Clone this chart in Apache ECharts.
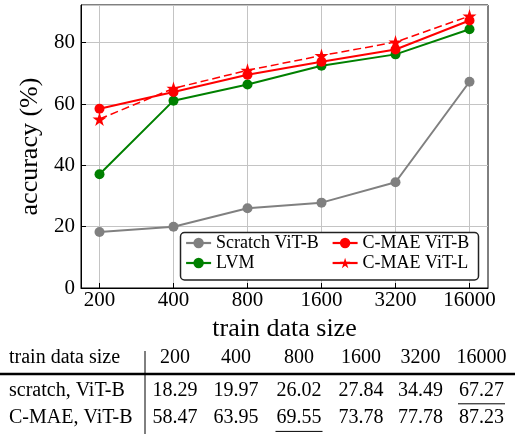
<!DOCTYPE html>
<html><head><meta charset="utf-8">
<script src="https://cdn.jsdelivr.net/npm/echarts@6/dist/echarts.min.js"></script>
<style>html,body{margin:0;padding:0;background:#fff}#c{width:515px;height:434px}</style>
</head><body><div id="c"></div>
<script>
// ---- data ----
const categories = ['200', '400', '800', '1600', '3200', '16000'];
const scratchVitB = [18.29, 19.97, 26.02, 27.84, 34.49, 67.27];
const lvm = [37.1, 61.1, 66.4, 72.5, 76.2, 84.4];
const cmaeVitB = [58.47, 63.95, 69.55, 73.78, 77.78, 87.23];
const cmaeVitL = [55.1, 65.1, 71.0, 75.8, 80.2, 88.7];
const seriesNames = ['Scratch ViT-B', 'LVM', 'C-MAE ViT-B', 'C-MAE ViT-L'];
const tableHeaderLabel = 'train data size';
const tableRowLabels = ['scratch, ViT-B', 'C-MAE, ViT-B'];
const tableRows = [scratchVitB, cmaeVitB];
const underlinedCol = [5, 2];

// ---- styling ----
const FONT = '"Liberation Serif", "Times New Roman", serif';
const STAR = 'path://M0,-10 L2.245,-3.09 L9.511,-3.09 L3.633,1.18 L5.878,8.09 L0,3.82 L-5.878,8.09 L-3.633,1.18 L-9.511,-3.09 L-2.245,-3.09 Z';
const idx = categories.map((c, i) => i);
const toPts = arr => arr.map((v, i) => [i, v]);

const chart = echarts.init(document.getElementById('c'), null, {renderer: 'canvas'});

// table graphics
const colX = [175, 236, 299, 361, 420.5, 481.5];
const rowY = [357.6, 390.3, 417.9];
const tableFont = '20px ' + FONT;
const g = [];
g.push({type: 'text', style: {text: tableHeaderLabel, x: 9, y: rowY[0], font: tableFont, fill: '#000', textAlign: 'left', textVerticalAlign: 'middle', verticalAlign: 'middle'}});
categories.forEach((c, i) => g.push({type: 'text', style: {text: c, x: colX[i], y: rowY[0], font: tableFont, fill: '#000', textAlign: 'center', textVerticalAlign: 'middle', verticalAlign: 'middle'}}));
tableRows.forEach((row, r) => {
  g.push({type: 'text', style: {text: tableRowLabels[r], x: 9, y: rowY[r + 1], font: tableFont, fill: '#000', textAlign: 'left', textVerticalAlign: 'middle', verticalAlign: 'middle'}});
  row.forEach((v, i) => {
    g.push({type: 'text', style: {text: v.toFixed(2), x: colX[i], y: rowY[r + 1], font: tableFont, fill: '#000', textAlign: 'center', textVerticalAlign: 'middle', verticalAlign: 'middle'}});
  });
  const u = underlinedCol[r];
  g.push({type: 'line', shape: {x1: colX[u] - 23.5, y1: rowY[r + 1] + 13.5, x2: colX[u] + 23.5, y2: rowY[r + 1] + 13.5}, style: {stroke: '#000', lineWidth: 1}});
});
g.push({type: 'line', shape: {x1: 0, y1: 374, x2: 515, y2: 374}, style: {stroke: '#000', lineWidth: 2.5}});
g.push({type: 'line', shape: {x1: 145, y1: 351, x2: 145, y2: 434}, style: {stroke: '#000', lineWidth: 1}});
// legend frame
g.push({type: 'rect', z: 3, shape: {x: 180.5, y: 232.5, width: 298, height: 47.5, r: 4}, style: {fill: '#fff', stroke: '#222', lineWidth: 1.5}});

const legendCommon = {
  orient: 'vertical', itemWidth: 25, itemHeight: 13, itemGap: 2, z: 5,
  textStyle: {fontFamily: FONT, fontSize: 18, color: '#000', lineHeight: 18, padding: 0},
  lineStyle: {width: 2.2, type: 'solid'},
  padding: 0
};

const option = {
  backgroundColor: '#fff',
  animation: false,
  textStyle: {fontFamily: FONT},
  grid: {left: 81, right: 27, top: 5, bottom: 146, show: true, borderColor: '#000', borderWidth: 1, containLabel: false},
  xAxis: {
    type: 'value', min: -0.25, max: 5.25,
    name: 'train data size', nameLocation: 'middle', nameGap: 27,
    nameTextStyle: {fontFamily: FONT, fontSize: 26, color: '#000'},
    axisLine: {show: true, onZero: false, lineStyle: {color: '#000', width: 1}},
    axisTick: {show: true, inside: true, length: 5, lineStyle: {color: '#000'}, customValues: idx},
    axisLabel: {customValues: idx, formatter: v => categories[Math.round(v)], fontFamily: FONT, fontSize: 21, color: '#000', margin: 2},
    splitLine: {show: true, lineStyle: {color: '#c4c4c4', width: 1}}
  },
  yAxis: {
    type: 'value', min: 0, max: 92.3, interval: 20,
    name: 'accuracy (%)', nameLocation: 'middle', nameGap: 27,
    nameTextStyle: {fontFamily: FONT, fontSize: 26, color: '#000'},
    axisLine: {show: true, onZero: false, lineStyle: {color: '#000', width: 1}},
    axisTick: {show: true, inside: true, length: 5, lineStyle: {color: '#000'}},
    axisLabel: {fontFamily: FONT, fontSize: 21, color: '#000', margin: 6, showMaxLabel: false, formatter: v => (v % 20 === 0 ? String(v) : '')},
    splitLine: {show: true, lineStyle: {color: '#c4c4c4', width: 1}}
  },
  legend: [
    Object.assign({}, legendCommon, {left: 185, top: 234, data: [seriesNames[0], seriesNames[1]]}),
    Object.assign({}, legendCommon, {left: 331.5, top: 234, data: [seriesNames[2], seriesNames[3]]})
  ],
  graphic: g,
  series: [
    {name: seriesNames[0], type: 'line', data: toPts(scratchVitB), symbol: 'circle', symbolSize: 10,
     lineStyle: {color: '#808080', width: 2}, itemStyle: {color: '#808080'}, z: 2},
    {name: seriesNames[1], type: 'line', data: toPts(lvm), symbol: 'circle', symbolSize: 10,
     lineStyle: {color: '#008000', width: 2}, itemStyle: {color: '#008000'}, z: 2},
    {name: seriesNames[2], type: 'line', data: toPts(cmaeVitB), symbol: 'circle', symbolSize: 10,
     lineStyle: {color: '#ff0000', width: 2}, itemStyle: {color: '#ff0000'}, z: 2},
    {name: seriesNames[3], type: 'line', data: toPts(cmaeVitL), symbol: STAR, symbolSize: 14,
     lineStyle: {color: '#ff0000', width: 1.5, type: [8, 4]}, itemStyle: {color: '#ff0000'}, z: 2}
  ]
};
chart.setOption(option);
</script></body></html>
